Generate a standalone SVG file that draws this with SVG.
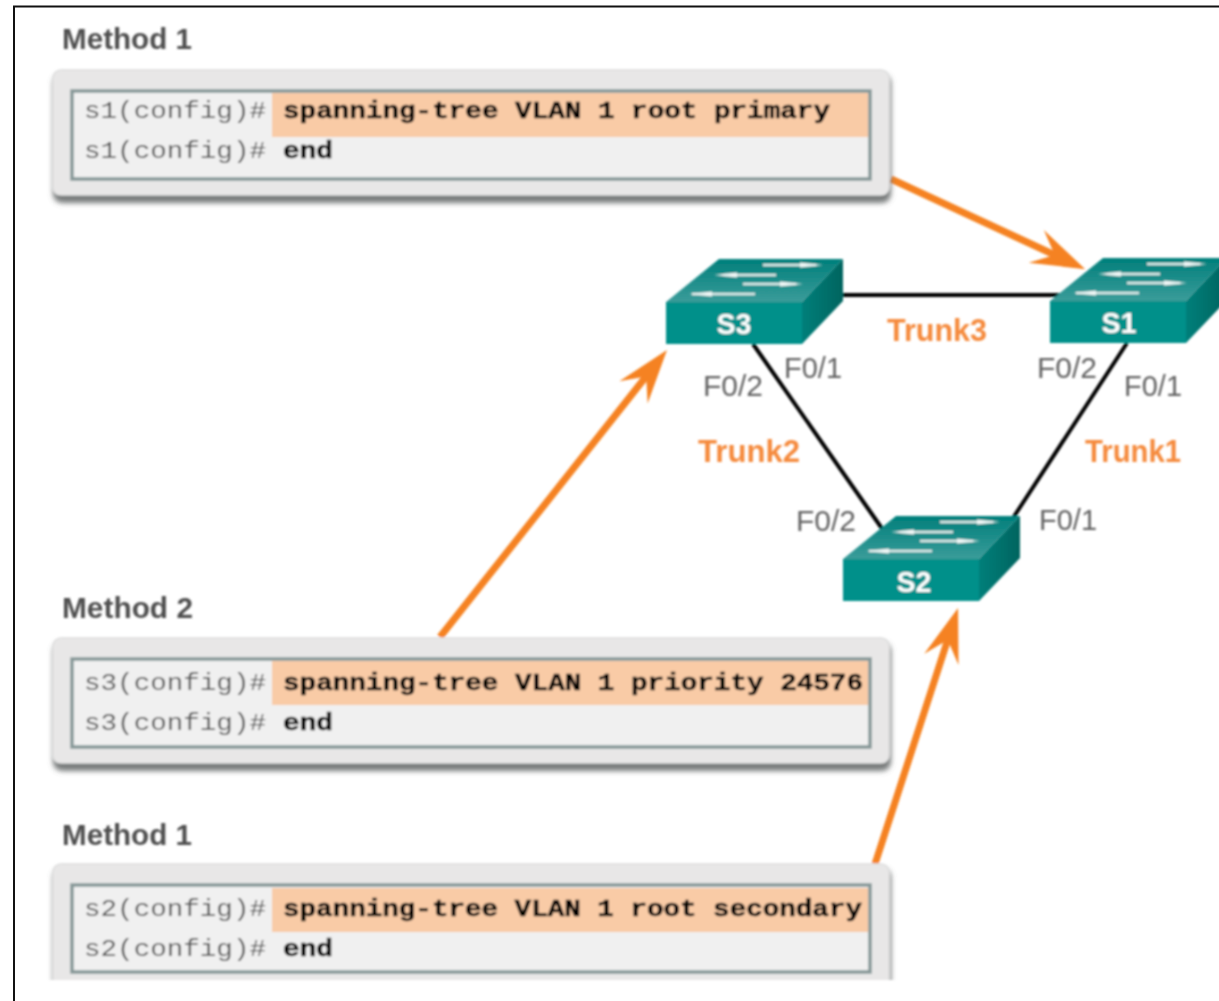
<svg xmlns="http://www.w3.org/2000/svg" xmlns:xlink="http://www.w3.org/1999/xlink" width="1219" height="1001" viewBox="0 0 1219 1001">
<style>
.m{font:bold 29.5px "Liberation Sans",Arial,sans-serif;fill:#505050}
.p{font:24px "Liberation Mono","Courier New",monospace;fill:#555}
.c{font:bold 24px "Liberation Mono","Courier New",monospace;fill:#000;stroke:#000;stroke-width:0.5}
.t{font:bold 30.500px "Liberation Sans",Arial,sans-serif;fill:#f58a3c}
.f{font:30px "Liberation Sans",Arial,sans-serif;fill:#636363}
.n{font:bold 30px "Liberation Sans",Arial,sans-serif;fill:#fff;text-anchor:middle}
.link{stroke:#000;stroke-width:4;fill:none}
.arrow{stroke:#f58220;stroke-width:7;fill:none;marker-end:url(#head)}
.ar{stroke:#dcebe9;stroke-width:2.500;fill:none}
.ah{fill:#eef6f5}
.outer{fill:#e8e7e7;stroke:#dedede;stroke-width:1.500}
.shadow{fill:#787c7c}
.inner{fill:#f0f0f0;stroke:#869898;stroke-width:3.500}
.hl{fill:#f9cba6}
</style>
<defs>
<filter id="soft" x="-5%" y="-5%" width="110%" height="110%"><feGaussianBlur stdDeviation="0.9"/></filter>
<filter id="softer" x="-5%" y="-20%" width="110%" height="140%"><feGaussianBlur stdDeviation="2.500"/></filter>
<linearGradient id="top" x1="0" y1="0" x2="0" y2="1"><stop offset="0" stop-color="#007f7b"/><stop offset="1" stop-color="#3b9c9a"/></linearGradient>
<linearGradient id="side" x1="0" y1="0" x2="1" y2="0"><stop offset="0" stop-color="#007f7a"/><stop offset="1" stop-color="#00645f"/></linearGradient>
<marker id="head" markerUnits="userSpaceOnUse" markerWidth="60" markerHeight="44" viewBox="0 -22 60 44" refX="26" refY="0" orient="auto"><path d="M56,0 L2,-18 L19,-3 L19,3 L2,18 Z" fill="#f58220"/></marker>
<clipPath id="cut"><rect x="0" y="850" width="1219" height="130"/></clipPath>
<g id="sw">
<path d="M0,0 L53,-43 H177 L136,0 Z" fill="url(#top)"/>
<path d="M136,0 L177,-43 V-1 L136,42 Z" fill="url(#side)"/>
<rect x="0" y="0" width="136" height="42" fill="#00908a"/>
<path class="ar" d="M97,-37 H150 M58,-27 H110 M77,-18 H130 M26,-8 H89"/>
<path class="ah" d="M134,-39.500 L157,-37 L134,-34.500 Z M71,-29.500 L48,-27 L71,-24.500 Z M114,-20.500 L137,-18 L114,-15.500 Z M46,-10.500 L23,-8 L46,-5.500 Z"/>
</g>
</defs>
<rect width="1219" height="1001" fill="#fff"/>
<path d="M14,1001 V6.500 H1219" fill="none" stroke="#111" stroke-width="2"/>
<g filter="url(#soft)">
<g id="connectors">
<path class="link" d="M843,295 H1062"/>
<path class="link" d="M753,344 L883,530"/>
<path class="link" d="M1127,343 L1013,518"/>
<path class="arrow" d="M891,179 L1058,256.500"/>
<path class="arrow" d="M440,637 L648.400,373.500"/>
<path class="arrow" d="M875,864 L948.800,636.500"/>
</g>
<g id="label-method1a"><text class="m" x="62" y="49" textLength="130" lengthAdjust="spacingAndGlyphs">Method 1</text></g>
<g id="panel-s1">
<rect class="shadow" x="53" y="74" width="838" height="129" rx="9" filter="url(#softer)"/>
<rect class="outer" x="53" y="70" width="836" height="125" rx="8"/>
<rect class="inner" x="72" y="91" width="798" height="88"/>
<rect class="hl" x="272" y="93" width="596" height="44"/>
<text class="p" x="84" y="118" textLength="182" lengthAdjust="spacingAndGlyphs">s1(config)#</text>
<text class="c" x="283" y="118" textLength="547" lengthAdjust="spacingAndGlyphs">spanning-tree VLAN 1 root primary</text>
<text class="p" x="84" y="158" textLength="182" lengthAdjust="spacingAndGlyphs">s1(config)#</text>
<text class="c" x="283" y="158" textLength="50" lengthAdjust="spacingAndGlyphs">end</text>
</g>
<g id="label-method2"><text class="m" x="62" y="618" textLength="131" lengthAdjust="spacingAndGlyphs">Method 2</text></g>
<g id="panel-s3">
<rect class="shadow" x="53" y="642" width="838" height="129" rx="9" filter="url(#softer)"/>
<rect class="outer" x="53" y="638" width="836" height="125" rx="8"/>
<rect class="inner" x="72" y="659" width="798" height="88"/>
<rect class="hl" x="272" y="661" width="596" height="44"/>
<text class="p" x="84" y="690" textLength="182" lengthAdjust="spacingAndGlyphs">s3(config)#</text>
<text class="c" x="283" y="690" textLength="580" lengthAdjust="spacingAndGlyphs">spanning-tree VLAN 1 priority 24576</text>
<text class="p" x="84" y="730" textLength="182" lengthAdjust="spacingAndGlyphs">s3(config)#</text>
<text class="c" x="283" y="730" textLength="50" lengthAdjust="spacingAndGlyphs">end</text>
</g>
<g id="label-method1b"><text class="m" x="62" y="845" textLength="130" lengthAdjust="spacingAndGlyphs">Method 1</text></g>
<g id="panel-s2">
<g clip-path="url(#cut)">
<rect class="shadow" x="53" y="868" width="838" height="140" rx="9" filter="url(#softer)"/>
<rect class="outer" x="53" y="864" width="836" height="130" rx="8"/>
</g>
<rect class="inner" x="72" y="885" width="798" height="87"/>
<rect class="hl" x="272" y="888" width="596" height="44"/>
<text class="p" x="84" y="916" textLength="182" lengthAdjust="spacingAndGlyphs">s2(config)#</text>
<text class="c" x="283" y="916" textLength="579" lengthAdjust="spacingAndGlyphs">spanning-tree VLAN 1 root secondary</text>
<text class="p" x="84" y="956" textLength="182" lengthAdjust="spacingAndGlyphs">s2(config)#</text>
<text class="c" x="283" y="956" textLength="50" lengthAdjust="spacingAndGlyphs">end</text>
</g>
<g id="S3"><use href="#sw" x="666" y="302"/><text class="n" x="734" y="334" textLength="35" lengthAdjust="spacingAndGlyphs">S3</text></g>
<g id="S1"><use href="#sw" x="1050" y="301"/><text class="n" x="1119" y="333" textLength="35" lengthAdjust="spacingAndGlyphs">S1</text></g>
<g id="S2"><use href="#sw" x="843" y="559"/><text class="n" x="914" y="592" textLength="35" lengthAdjust="spacingAndGlyphs">S2</text></g>
<g id="link-labels">
<text class="t" x="887" y="341" textLength="100" lengthAdjust="spacingAndGlyphs">Trunk3</text>
<text class="t" x="698" y="462" textLength="102" lengthAdjust="spacingAndGlyphs">Trunk2</text>
<text class="t" x="1085" y="462" textLength="96" lengthAdjust="spacingAndGlyphs">Trunk1</text>
<text class="f" x="784" y="378" textLength="58" lengthAdjust="spacingAndGlyphs">F0/1</text>
<text class="f" x="703" y="396" textLength="60" lengthAdjust="spacingAndGlyphs">F0/2</text>
<text class="f" x="1037" y="378" textLength="60" lengthAdjust="spacingAndGlyphs">F0/2</text>
<text class="f" x="1124" y="396" textLength="58" lengthAdjust="spacingAndGlyphs">F0/1</text>
<text class="f" x="796" y="531" textLength="60" lengthAdjust="spacingAndGlyphs">F0/2</text>
<text class="f" x="1039" y="530" textLength="58" lengthAdjust="spacingAndGlyphs">F0/1</text>
</g>
</g>
</svg>
